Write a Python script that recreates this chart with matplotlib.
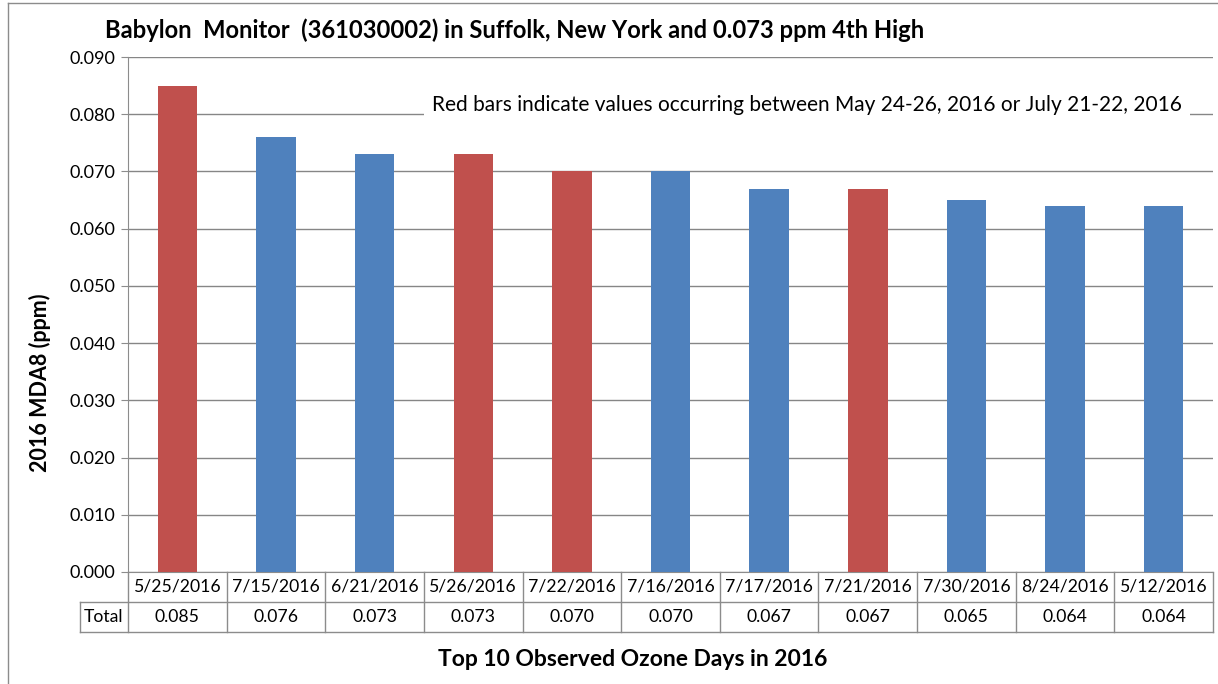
import matplotlib.pyplot as plt
import matplotlib.transforms as mtransforms

plt.rcParams['font.family'] = ['Lato', 'DejaVu Sans']

dates = ["5/25/2016", "7/15/2016", "6/21/2016", "5/26/2016", "7/22/2016", "7/16/2016",
         "7/17/2016", "7/21/2016", "7/30/2016", "8/24/2016", "5/12/2016"]
values = [0.085, 0.076, 0.073, 0.073, 0.070, 0.070, 0.067, 0.067, 0.065, 0.064, 0.064]
# True = day falls in May 24-26 or July 21-22 window
highlight = [True, False, False, True, True, False, False, True, False, False, False]
yticks = [0.000, 0.010, 0.020, 0.030, 0.040, 0.050, 0.060, 0.070, 0.080, 0.090]

RED = "#C0504D"
BLUE = "#4F81BD"
GRID = "#868686"
LINE = "#8C8C8C"

W, H = 1218, 684
fig = plt.figure(figsize=(W / 100, H / 100), dpi=100)

# plot area in pixel terms
left, right, top, bottom = 128, 1213, 57, 572
ax = fig.add_axes([left / W, 1 - bottom / H, (right - left) / W, (bottom - top) / H])

x = list(range(len(dates)))
colors = [RED if h else BLUE for h in highlight]
ax.bar(x, values, width=0.4, color=colors, zorder=3)

ax.set_xlim(-0.5, len(dates) - 0.5)
ax.set_ylim(0, 0.09)
ax.set_yticks(yticks)
ax.set_yticklabels([f"{v:.3f}" for v in yticks], fontsize=13)
ax.yaxis.grid(True, color=GRID, linewidth=1, zorder=0)
ax.tick_params(axis="y", length=5, color=LINE, pad=4)
ax.tick_params(axis="x", length=0, labelbottom=False)
for s in ["top", "right"]:
    ax.spines[s].set_visible(False)
ax.spines["left"].set_color(LINE)
ax.spines["bottom"].set_color(LINE)

# data table under the axis
pw = right - left
ph = bottom - top
row_h = 30 / ph
lab_w = 48 / pw
blend = mtransforms.blended_transform_factory(ax.transData, ax.transAxes)
lk = dict(color=LINE, linewidth=1, clip_on=False, transform=ax.transAxes)
ax.plot([0, 0], [0, -2 * row_h], **lk)
ax.plot([1, 1], [0, -2 * row_h], **lk)
ax.plot([-lab_w, 1], [-row_h, -row_h], **lk)
ax.plot([-lab_w, 1], [-2 * row_h, -2 * row_h], **lk)
ax.plot([-lab_w, -lab_w], [-row_h, -2 * row_h], **lk)
for i in range(1, len(dates)):
    ax.plot([i - 0.5, i - 0.5], [0, -2 * row_h], color=LINE, linewidth=1,
            clip_on=False, transform=blend)
for i, (d, v) in enumerate(zip(dates, values)):
    ax.text(i, -0.5 * row_h, d, transform=blend, ha="center", va="center", fontsize=12.7)
    ax.text(i, -1.5 * row_h, f"{v:.3f}", transform=blend, ha="center", va="center",
            fontsize=12.7)
ax.text(-lab_w / 2, -1.5 * row_h, "Total", transform=ax.transAxes, ha="center",
        va="center", fontsize=12.7)

# titles and labels
fig.text(105 / W, 1 - 30 / H, "Babylon  Monitor  (361030002) in Suffolk, New York and 0.073 ppm 4th High",
         fontsize=17.1, fontweight="bold", ha="left", va="center")
fig.text(633 / W, 1 - 659 / H, "Top 10 Observed Ozone Days in 2016", fontsize=16.5,
         fontweight="bold", ha="center", va="center")
fig.text(40 / W, 1 - 383 / H, "2016 MDA8 (ppm)", fontsize=15.5, fontweight="bold",
         rotation=90, ha="center", va="center")
fig.text(807 / W, 1 - 105 / H,
         "Red bars indicate values occurring between May 24-26, 2016 or July 21-22, 2016",
         fontsize=15, ha="center", va="center",
         bbox=dict(facecolor="white", edgecolor="none", pad=6))

# chart border
fig.add_artist(plt.Line2D([8 / W, 8 / W], [0, 1 - 3 / H], color=LINE, linewidth=1))
fig.add_artist(plt.Line2D([8 / W, 1], [1 - 3 / H, 1 - 3 / H], color=LINE, linewidth=1))

fig.savefig("out.png", dpi=100)
